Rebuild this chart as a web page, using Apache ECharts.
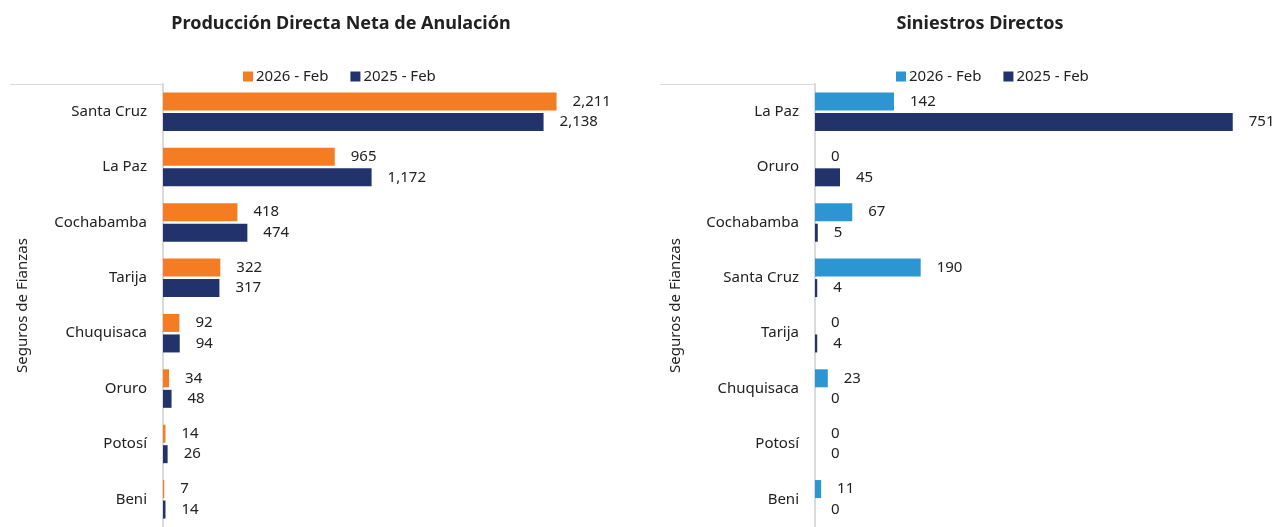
<!DOCTYPE html>
<html>
<head>
  <meta charset="UTF-8">
  <title>Seguros de Fianzas</title>
  <style>
    body { margin: 0; background: #fff; }
    .wrap { display: flex; width: 1278px; height: 527px; }
    #left { width: 639px; height: 527px; }
    #right { width: 639px; height: 527px; }
  </style>
</head>
<body>
  <div class="wrap">
    <div id="left"></div>
    <div id="right"></div>
  </div>
  <script src="https://cdn.jsdelivr.net/npm/echarts@6/dist/echarts.min.js"></script>
  <script>
    const seriesNames = ['2026 - Feb', '2025 - Feb'];

    const prodCategories = ['Santa Cruz', 'La Paz', 'Cochabamba', 'Tarija', 'Chuquisaca', 'Oruro', 'Potosí', 'Beni'];
    const prod2026 = [2211, 965, 418, 322, 92, 34, 14, 7];
    const prod2025 = [2138, 1172, 474, 317, 94, 48, 26, 14];

    const sinCategories = ['La Paz', 'Oruro', 'Cochabamba', 'Santa Cruz', 'Tarija', 'Chuquisaca', 'Potosí', 'Beni'];
    const sin2026 = [142, 0, 67, 190, 0, 23, 0, 11];
    const sin2025 = [751, 45, 5, 4, 4, 0, 0, 0];

    const font = '"Noto Sans", sans-serif';

    function buildOption(cfg) {
      const barSeries = (name, data, color) => ({
        name: name,
        type: 'bar',
        data: data,
        barWidth: 18,
        barGap: '14%',
        itemStyle: { color: color },
        label: {
          show: true,
          position: 'right',
          distance: 16,
          color: '#222',
          fontSize: 15,
          fontFamily: font,
          formatter: p => p.value.toLocaleString('en-US')
        }
      });
      return {
        animation: false,
        textStyle: { fontFamily: font },
        title: {
          text: cfg.title,
          left: 336,
          textAlign: 'center',
          top: 10,
          textStyle: { fontSize: 18, fontWeight: 'bold', color: '#222', fontFamily: font }
        },
        legend: {
          data: seriesNames,
          left: cfg.legendLeft,
          top: 64,
          itemWidth: 10,
          itemHeight: 10,
          itemGap: 22,
          icon: 'rect',
          textStyle: { fontSize: 15, color: '#222', fontFamily: font, padding: [0, 0, 0, -2] }
        },
        grid: { left: cfg.gridLeft, top: 84, width: 445, height: 448 },
        xAxis: {
          type: 'value',
          min: 0,
          max: cfg.max,
          show: false
        },
        yAxis: {
          type: 'category',
          data: cfg.categories,
          inverse: true,
          name: 'Seguros de Fianzas',
          nameLocation: 'middle',
          nameGap: cfg.nameGap,
          nameRotate: 90,
          nameTextStyle: { fontSize: 15, color: '#222', fontFamily: font },
          axisLine: { show: true, lineStyle: { color: '#d9d9de', width: 2 } },
          axisTick: {
            show: true,
            length: cfg.tickLen,
            interval: i => i === 0,
            lineStyle: { color: '#d9d9de', width: 1 }
          },
          axisLabel: { fontSize: 15, color: '#222', margin: 16, fontFamily: font }
        },
        series: [
          barSeries(seriesNames[0], cfg.a, cfg.colorA),
          barSeries(seriesNames[1], cfg.b, '#22336b')
        ]
      };
    }

    echarts.init(document.getElementById('left')).setOption(buildOption({
      title: 'Producción Directa Neta de Anulación',
      categories: prodCategories,
      a: prod2026,
      b: prod2025,
      colorA: '#f47c22',
      max: 2500,
      gridLeft: 163,
      legendLeft: 238,
      nameGap: 133,
      tickLen: 153
    }));

    echarts.init(document.getElementById('right')).setOption(buildOption({
      title: 'Siniestros Directos',
      categories: sinCategories,
      a: sin2026,
      b: sin2025,
      colorA: '#2e95d3',
      max: 800,
      gridLeft: 176,
      legendLeft: 252,
      nameGap: 132,
      tickLen: 155
    }));
  </script>
</body>
</html>
